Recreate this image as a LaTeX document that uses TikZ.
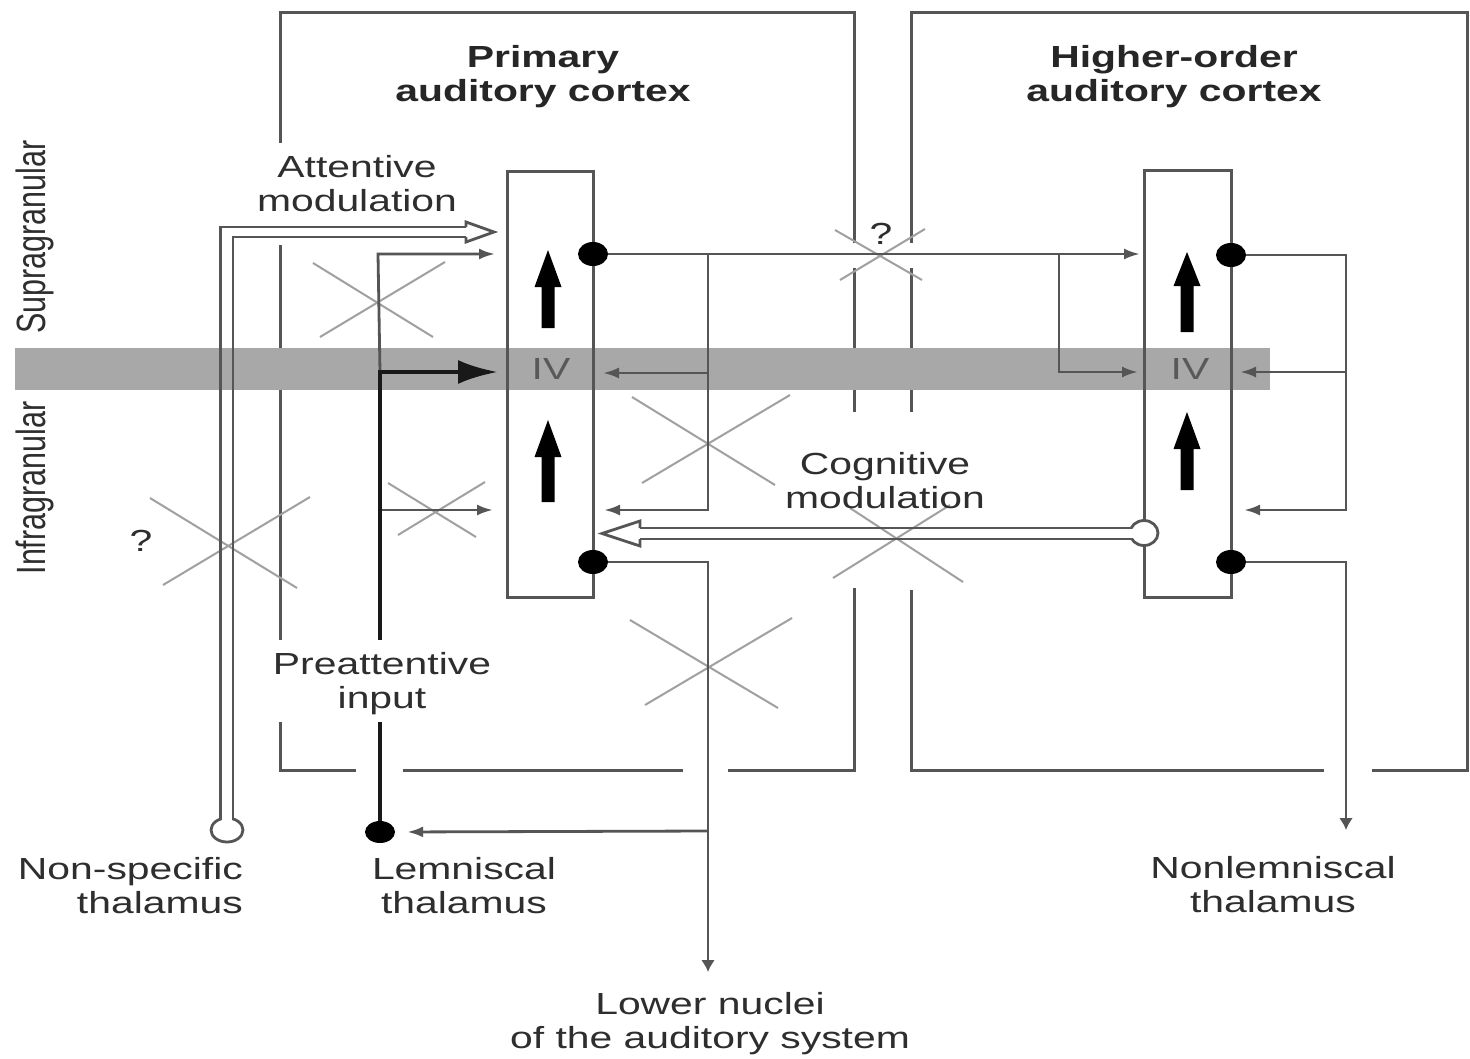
\documentclass[tikz,border=0pt]{standalone}
\usepackage{graphicx}
\usepackage{fontspec}
\setmainfont{Liberation Sans}[FakeStretch=1.34]
\newfontfamily\rotfont{Liberation Sans}
\usetikzlibrary{arrows.meta,shapes.geometric}
\definecolor{bandgray}{HTML}{A8A8A8}
\definecolor{lngray}{HTML}{555555}
\definecolor{txtgray}{HTML}{2E2E2E}
\definecolor{xgray}{HTML}{A0A0A0}
\newcommand\fatarrowup[4]{\fill[black] (#1,#2) -- (#1+13.5,#3) -- (#1+6.5,#3) -- (#1+6.5,#4) -- (#1-6.5,#4) -- (#1-6.5,#3) -- (#1-13.5,#3) -- cycle;}
\begin{document}
\begin{tikzpicture}[x=1pt,y=-1pt,
  frm/.style={draw=lngray,line width=3pt,line join=miter},
  wire/.style={draw=lngray,line width=2.8pt},
  harr/.style={wire,-{Latex[length=16pt,width=11pt]}},
  varr/.style={wire,-{Latex[length=12pt,width=14pt]}},
  xmark/.style={draw=xgray,line width=2pt},
  lbl/.style={text=txtgray,font=\fontsize{30.5}{34}\selectfont,align=center,inner sep=0pt},
  ttl/.style={lbl,text=black!85,font=\fontsize{30.5}{34}\selectfont\bfseries},
  fdot/.style={ellipse,fill=black,draw=none,minimum width=30pt,minimum height=24pt,inner sep=0pt},
  odot/.style={ellipse,fill=white,draw=lngray,line width=2.8pt,inner sep=0pt},
  col/.style={draw=lngray,line width=3pt,inner sep=0pt},
  thickblk/.style={draw=black!90,line width=4.8pt}
]
\fill[white] (0,0) rectangle (1470,1058);
\useasboundingbox (0,0) rectangle (1470,1058);

% frames
\draw[frm] (280,143) -- (280,12) -- (854,12) -- (854,243);
\draw[frm] (854,268) -- (854,412);
\draw[frm] (854,588) -- (854,770) -- (728,770);
\draw[frm] (683,770) -- (403,770);
\draw[frm] (356,770) -- (280,770) -- (280,722);
\draw[frm] (280,640) -- (280,245);
\draw[frm] (911,243) -- (911,12) -- (1467,12) -- (1467,770) -- (1372,770);
\draw[frm] (1324,770) -- (911,770) -- (911,590);
\draw[frm] (911,412) -- (911,268);

% layer IV band
\fill[bandgray] (15,348) rectangle (1270,390);

% crosses
\draw[xmark] (313,263) -- (433,337); \draw[xmark] (320,337) -- (445,262);
\draw[xmark] (150,498) -- (297,588); \draw[xmark] (163,585) -- (310,497);
\draw[xmark] (388,483) -- (476,537); \draw[xmark] (398,535) -- (485,482);
\draw[xmark] (632,397) -- (775,485); \draw[xmark] (642,483) -- (790,395);
\draw[xmark] (850,508) -- (963,582); \draw[xmark] (833,578) -- (950,505);
\draw[xmark] (630,620) -- (778,708); \draw[xmark] (645,705) -- (792,618);
\draw[xmark] (835,230) -- (922,280); \draw[xmark] (840,280) -- (925,229);

% columns
\node[col,minimum width=86pt,minimum height=426pt] (pcol) at (550,384) {};
\node[col,minimum width=87pt,minimum height=427pt] (hcol) at (1187.5,383.5) {};
\fatarrowup{548}{250}{287}{328}
\fatarrowup{548}{420}{457}{502}
\fatarrowup{1187}{252}{286}{332}
\fatarrowup{1187}{412}{449}{490}

% dots
\node[fdot] (pT) at (593,254) {};
\node[fdot] (pB) at (593,562) {};
\node[fdot] (hT) at (1231,255) {};
\node[fdot] (hB) at (1231,562) {};
\node[fdot,minimum width=30pt,minimum height=22pt] (lem) at (380,832) {};
\node[odot,minimum width=32pt,minimum height=24pt] (ns) at (227,830) {};
\node[odot,minimum width=28pt,minimum height=25pt] (cg) at (1144,533) {};

% coordinates
\coordinate (jA) at (708,254);
\coordinate (jAiv) at (708,373);
\coordinate (pinIVr) at (603,373);
\coordinate (pinLr) at (604,510);
\coordinate (hinT) at (1140,254);
\coordinate (jB) at (1059,254);
\coordinate (hinIVl) at (1138,372);
\coordinate (jR) at (1346,255);
\coordinate (jRiv) at (1346,372);
\coordinate (hinIVr) at (1240,372);
\coordinate (hinLr) at (1244,510);
\coordinate (jPB) at (708,562);
\coordinate (jLem) at (708,831);
\coordinate (lowTip) at (708,972);
\coordinate (jHB) at (1346,562);
\coordinate (nlTip) at (1346,830);
\coordinate (lemIV) at (380,372);
\coordinate (lemTop) at (378,254);
\coordinate (pinTl) at (495,254);
\coordinate (pinIVl) at (498,372);
\coordinate (lemBr) at (380,510);
\coordinate (pinLl) at (493,510);
\coordinate (gapTop) at (380,640);
\coordinate (gapBot) at (380,722);
\coordinate (attO1) at (220.5,820);
\coordinate (attO2) at (220.5,227);
\coordinate (attO3) at (466,227);
\coordinate (attI1) at (233,820);
\coordinate (attI2) at (233,237);
\coordinate (attI3) at (466,237);
\coordinate (attTip) at (494,232);
\coordinate (cogU1) at (1132,528);
\coordinate (cogU2) at (640,528);
\coordinate (cogL1) at (1132,539);
\coordinate (cogL2) at (640,539);
\coordinate (cogTip) at (602,533.5);

% connectors
\draw[harr] (pT.east) -- (hinT);
\draw[harr] (jA) |- (pinLr);
\draw[harr] (jAiv) -- (pinIVr);
\draw[harr] (jB) |- (hinIVl);
\draw[harr] (hT.east) -- (jR) |- (hinLr);
\draw[harr] (jRiv) -- (hinIVr);
\draw[varr] (pB.east) -- (jPB) -- (lowTip);
\draw[harr,shorten >=12pt] (jLem) -- (lem.east);
\draw[varr] (hB.east) -- (jHB) -- (nlTip);

% lemniscal (preattentive) pathway
\draw[harr] (lemIV) -- (lemTop) -- (pinTl);
\draw[harr] (lemBr) -- (pinLl);
\draw[thickblk] (lem.north) -- (gapBot);
\draw[thickblk,-{Latex[length=40pt,width=24pt]}] (gapTop) -- (lemIV) -- (pinIVl);

% attentive modulation (open double arrow)
\fill[white] (221.8,812) rectangle (231.7,823);
\draw[wire] (attO1) -- (attO2) -- (attO3);
\draw[wire] (attI1) -- (attI2) -- (attI3);
\draw[wire,line join=miter] (466,227) -- (466,222) -- (attTip) -- (466,242) -- (466,237);

% cognitive modulation (open double arrow)
\fill[white] (1127,529.3) rectangle (1137,537.7);
\draw[wire] (cogU1) -- (cogU2);
\draw[wire] (cogL1) -- (cogL2);
\draw[wire,line join=miter] (cogU2) -- (640,521) -- (cogTip) -- (640,546) -- (cogL2);

% labels
\node[ttl] (tPrim) at (543,77) {Primary\\auditory cortex};
\node[ttl] (tHigh) at (1174,77) {Higher-order\\auditory cortex};
\node[lbl] (tAtt) at (357,184) {Attentive\\modulation};
\node[lbl] (tCog) at (885,481) {Cognitive\\modulation};
\node[lbl] (tPre) at (382,684) {Preattentive\\input};
\node[lbl,anchor=east,align=right] (tNS) at (243,886) {Non-specific\\thalamus};
\node[lbl] (tLem) at (464,886) {Lemniscal\\thalamus};
\node[lbl] (tNL) at (1273,885) {Nonlemniscal\\thalamus};
\node[lbl] (tLow) at (710,1024) {Lower nuclei\\of the auditory system};
\node[lbl,text=black!65] (ivP) at (551,369) {IV};
\node[lbl,text=black!65] (ivH) at (1190,369) {IV};
\node[lbl] (q1) at (141,541) {?};
\node[lbl] (q2) at (881,234) {?};
\node[lbl,rotate=90] (supra) at (35,237) {\scalebox{1}[1.34]{\rotfont Supragranular}};
\node[lbl,rotate=90] (infra) at (35,488) {\scalebox{1}[1.34]{\rotfont Infragranular}};
\end{tikzpicture}
\end{document}
